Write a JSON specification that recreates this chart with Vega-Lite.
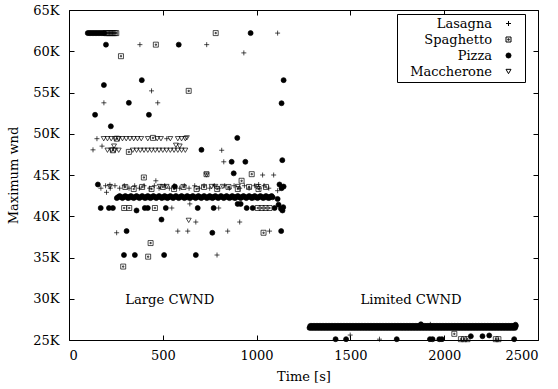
{
"$schema": "https://vega.github.io/schema/vega-lite/v6.json",
"width": 469, "height": 330,
"autosize": "none",
"padding": {"left": 69, "top": 10, "right": 20, "bottom": 49},
"background": "white",
"config": {
 "view": {"stroke": "black", "strokeWidth": 1},
 "font": "DejaVu Serif",
 "axis": {"labelFont": "DejaVu Serif", "labelFontSize": 13, "titleFont": "DejaVu Serif", "titleFontSize": 13, "titleFontWeight": "normal", "labelColor": "black", "titleColor": "black", "tickColor": "black", "tickSize": -5, "tickWidth": 1, "domain": false, "grid": false, "labelPadding": 15},
 "legend": {"strokeColor": "black", "padding": 3, "rowPadding": 2, "labelFont": "DejaVu Serif", "labelFontSize": 13, "labelColor": "black", "symbolStrokeWidth": 1, "labelLimit": 300, "cornerRadius": 0, "fillColor": "white", "labelAlign": "right", "symbolOffset": 102, "labelOffset": -23, "titleOrient": "right", "titlePadding": 9, "titleFont": "DejaVu Serif", "titleFontSize": 13}
},
"datasets": {
"notes": [{"t": 537, "w": 29.9, "label": "Large CWND"}, {"t": 1823, "w": 29.9, "label": "Limited CWND"}],
"pts": [
{"s":"Lasagna","t":378,"w":60.8},{"s":"Lasagna","t":734,"w":60.8},{"s":"Lasagna","t":1112,"w":62.2},{"s":"Lasagna","t":932,"w":59.8},{"s":"Lasagna","t":440,"w":55.2},{"s":"Lasagna","t":186,"w":53.75},{"s":"Lasagna","t":473,"w":53.75},{"s":"Lasagna","t":149,"w":49.4},{"s":"Lasagna","t":521,"w":49.4},{"s":"Lasagna","t":128,"w":48.05},{"s":"Lasagna","t":176,"w":48.5},{"s":"Lasagna","t":814,"w":48.0},{"s":"Lasagna","t":825,"w":46.6},{"s":"Lasagna","t":1032,"w":45.0},{"s":"Lasagna","t":1091,"w":45.0},{"s":"Lasagna","t":463,"w":44.3},{"s":"Lasagna","t":200,"w":42.9},{"s":"Lasagna","t":1011,"w":43.85},{"s":"Lasagna","t":1112,"w":43.1},{"s":"Lasagna","t":644,"w":41.5},{"s":"Lasagna","t":548,"w":41.0},{"s":"Lasagna","t":798,"w":41.0},{"s":"Lasagna","t":676,"w":39.3},{"s":"Lasagna","t":910,"w":39.3},{"s":"Lasagna","t":254,"w":38.0},{"s":"Lasagna","t":580,"w":38.2},{"s":"Lasagna","t":633,"w":38.2},{"s":"Lasagna","t":846,"w":38.2},{"s":"Lasagna","t":1069,"w":38.2},{"s":"Lasagna","t":789,"w":35.3},{"s":"Lasagna","t":1087,"w":42.4},{"s":"Lasagna","t":218,"w":43.8},{"s":"Lasagna","t":1499,"w":25.6},{"s":"Lasagna","t":1655,"w":25.1},{"s":"Lasagna","t":1926,"w":26.9},
{"s":"Lasagna","t":170,"w":43.4},{"s":"Lasagna","t":195,"w":43.7},{"s":"Lasagna","t":220,"w":43.4},{"s":"Lasagna","t":245,"w":43.7},{"s":"Lasagna","t":270,"w":43.4},{"s":"Lasagna","t":295,"w":43.7},{"s":"Lasagna","t":320,"w":43.4},{"s":"Lasagna","t":350,"w":43.7},{"s":"Lasagna","t":375,"w":43.4},{"s":"Lasagna","t":400,"w":43.7},{"s":"Lasagna","t":430,"w":43.4},{"s":"Lasagna","t":455,"w":43.7},{"s":"Lasagna","t":480,"w":43.4},{"s":"Lasagna","t":510,"w":43.7},{"s":"Lasagna","t":535,"w":43.4},{"s":"Lasagna","t":560,"w":43.7},{"s":"Lasagna","t":590,"w":43.4},{"s":"Lasagna","t":615,"w":43.7},{"s":"Lasagna","t":640,"w":43.4},{"s":"Lasagna","t":670,"w":43.7},{"s":"Lasagna","t":695,"w":43.4},{"s":"Lasagna","t":720,"w":43.7},{"s":"Lasagna","t":750,"w":43.4},{"s":"Lasagna","t":775,"w":43.7},{"s":"Lasagna","t":800,"w":43.4},{"s":"Lasagna","t":830,"w":43.7},{"s":"Lasagna","t":855,"w":43.4},{"s":"Lasagna","t":880,"w":43.7},{"s":"Lasagna","t":910,"w":43.4},{"s":"Lasagna","t":935,"w":43.7},{"s":"Lasagna","t":960,"w":43.4},{"s":"Lasagna","t":990,"w":43.7},{"s":"Lasagna","t":1015,"w":43.4},{"s":"Lasagna","t":1040,"w":43.7},{"s":"Lasagna","t":1065,"w":43.4},
{"s":"Spaghetto","t":196,"w":62.2},{"s":"Spaghetto","t":204,"w":62.2},{"s":"Spaghetto","t":212,"w":62.2},{"s":"Spaghetto","t":220,"w":62.2},{"s":"Spaghetto","t":228,"w":62.2},{"s":"Spaghetto","t":236,"w":62.2},{"s":"Spaghetto","t":244,"w":62.2},{"s":"Spaghetto","t":252,"w":62.2},
{"s":"Spaghetto","t":463,"w":60.8},{"s":"Spaghetto","t":782,"w":62.2},{"s":"Spaghetto","t":277,"w":59.4},{"s":"Spaghetto","t":638,"w":55.2},{"s":"Spaghetto","t":448,"w":49.5},{"s":"Spaghetto","t":319,"w":47.8},{"s":"Spaghetto","t":255,"w":49.4},{"s":"Spaghetto","t":234,"w":48.0},{"s":"Spaghetto","t":399,"w":44.7},{"s":"Spaghetto","t":733,"w":45.1},{"s":"Spaghetto","t":920,"w":44.3},{"s":"Spaghetto","t":974,"w":45.1},{"s":"Spaghetto","t":294,"w":41.0},{"s":"Spaghetto","t":321,"w":41.0},{"s":"Spaghetto","t":458,"w":41.0},{"s":"Spaghetto","t":1006,"w":41.0},{"s":"Spaghetto","t":1027,"w":41.0},{"s":"Spaghetto","t":1048,"w":41.0},{"s":"Spaghetto","t":1069,"w":41.0},{"s":"Spaghetto","t":1037,"w":38.0},{"s":"Spaghetto","t":435,"w":36.75},{"s":"Spaghetto","t":422,"w":35.1},{"s":"Spaghetto","t":289,"w":33.9},
{"s":"Spaghetto","t":300,"w":43.55},{"s":"Spaghetto","t":345,"w":43.3},{"s":"Spaghetto","t":390,"w":43.55},{"s":"Spaghetto","t":440,"w":43.3},{"s":"Spaghetto","t":500,"w":43.55},{"s":"Spaghetto","t":560,"w":43.3},{"s":"Spaghetto","t":610,"w":43.55},{"s":"Spaghetto","t":680,"w":43.3},{"s":"Spaghetto","t":720,"w":43.55},{"s":"Spaghetto","t":790,"w":43.3},{"s":"Spaghetto","t":850,"w":43.55},{"s":"Spaghetto","t":900,"w":43.3},{"s":"Spaghetto","t":960,"w":43.55},{"s":"Spaghetto","t":1010,"w":43.3},{"s":"Spaghetto","t":1050,"w":43.55},
{"s":"Spaghetto","t":320,"w":42.3},{"s":"Spaghetto","t":420,"w":42.3},{"s":"Spaghetto","t":520,"w":42.3},{"s":"Spaghetto","t":640,"w":42.3},{"s":"Spaghetto","t":760,"w":42.3},{"s":"Spaghetto","t":880,"w":42.3},{"s":"Spaghetto","t":980,"w":42.3},{"s":"Spaghetto","t":1060,"w":42.3},
{"s":"Spaghetto","t":2054,"w":25.75},{"s":"Spaghetto","t":2089,"w":25.1},{"s":"Spaghetto","t":2106,"w":25.1},{"s":"Spaghetto","t":2124,"w":25.1},{"s":"Spaghetto","t":2275,"w":25.1},{"s":"Spaghetto","t":2289,"w":25.1},
{"s":"Pizza","t":100,"w":62.2},{"s":"Pizza","t":108,"w":62.2},{"s":"Pizza","t":116,"w":62.2},{"s":"Pizza","t":124,"w":62.2},{"s":"Pizza","t":132,"w":62.2},{"s":"Pizza","t":140,"w":62.2},{"s":"Pizza","t":148,"w":62.2},{"s":"Pizza","t":156,"w":62.2},{"s":"Pizza","t":164,"w":62.2},{"s":"Pizza","t":172,"w":62.2},{"s":"Pizza","t":180,"w":62.2},{"s":"Pizza","t":188,"w":62.2},
{"s":"Pizza","t":197,"w":60.8},{"s":"Pizza","t":585,"w":60.8},{"s":"Pizza","t":968,"w":62.2},{"s":"Pizza","t":388,"w":56.5},{"s":"Pizza","t":186,"w":55.9},{"s":"Pizza","t":319,"w":53.75},{"s":"Pizza","t":139,"w":52.3},{"s":"Pizza","t":426,"w":52.3},{"s":"Pizza","t":223,"w":50.9},{"s":"Pizza","t":1144,"w":56.5},{"s":"Pizza","t":1133,"w":53.7},{"s":"Pizza","t":897,"w":49.5},{"s":"Pizza","t":706,"w":48.05},{"s":"Pizza","t":867,"w":46.6},{"s":"Pizza","t":940,"w":46.6},{"s":"Pizza","t":1137,"w":46.8},{"s":"Pizza","t":878,"w":45.2},{"s":"Pizza","t":154,"w":43.85},{"s":"Pizza","t":564,"w":43.6},
{"s":"Pizza","t":169,"w":41.0},{"s":"Pizza","t":213,"w":41.0},{"s":"Pizza","t":234,"w":41.0},{"s":"Pizza","t":360,"w":40.7},{"s":"Pizza","t":404,"w":41.0},{"s":"Pizza","t":420,"w":41.0},{"s":"Pizza","t":516,"w":41.0},{"s":"Pizza","t":686,"w":41.0},{"s":"Pizza","t":771,"w":41.0},{"s":"Pizza","t":899,"w":41.5},{"s":"Pizza","t":915,"w":41.5},{"s":"Pizza","t":947,"w":41.0},{"s":"Pizza","t":979,"w":41.0},{"s":"Pizza","t":1096,"w":41.0},{"s":"Pizza","t":1117,"w":41.4},{"s":"Pizza","t":1138,"w":40.7},
{"s":"Pizza","t":493,"w":39.6},{"s":"Pizza","t":307,"w":38.2},{"s":"Pizza","t":764,"w":38.0},{"s":"Pizza","t":1131,"w":38.2},{"s":"Pizza","t":293,"w":35.3},{"s":"Pizza","t":351,"w":35.3},{"s":"Pizza","t":507,"w":35.3},{"s":"Pizza","t":676,"w":35.3},
{"s":"Pizza","t":1122,"w":43.85},{"s":"Pizza","t":1144,"w":43.6},{"s":"Pizza","t":1133,"w":43.4},{"s":"Pizza","t":1085,"w":42.3},{"s":"Pizza","t":1112,"w":42.1},{"s":"Pizza","t":1130,"w":40.9},{"s":"Pizza","t":1142,"w":41.1},
{"s":"Pizza","t":255,"w":42.2},{"s":"Pizza","t":270,"w":42.45},{"s":"Pizza","t":285,"w":42.2},{"s":"Pizza","t":300,"w":42.45},{"s":"Pizza","t":315,"w":42.2},{"s":"Pizza","t":330,"w":42.45},{"s":"Pizza","t":345,"w":42.2},{"s":"Pizza","t":360,"w":42.45},{"s":"Pizza","t":375,"w":42.2},{"s":"Pizza","t":390,"w":42.45},{"s":"Pizza","t":405,"w":42.2},{"s":"Pizza","t":420,"w":42.45},{"s":"Pizza","t":435,"w":42.2},{"s":"Pizza","t":450,"w":42.45},{"s":"Pizza","t":465,"w":42.2},{"s":"Pizza","t":480,"w":42.45},{"s":"Pizza","t":495,"w":42.2},{"s":"Pizza","t":510,"w":42.45},{"s":"Pizza","t":525,"w":42.2},{"s":"Pizza","t":540,"w":42.45},{"s":"Pizza","t":555,"w":42.2},{"s":"Pizza","t":570,"w":42.45},{"s":"Pizza","t":585,"w":42.2},{"s":"Pizza","t":600,"w":42.45},{"s":"Pizza","t":615,"w":42.2},{"s":"Pizza","t":630,"w":42.45},{"s":"Pizza","t":645,"w":42.2},{"s":"Pizza","t":660,"w":42.45},{"s":"Pizza","t":675,"w":42.2},{"s":"Pizza","t":690,"w":42.45},{"s":"Pizza","t":705,"w":42.2},{"s":"Pizza","t":720,"w":42.45},{"s":"Pizza","t":735,"w":42.2},{"s":"Pizza","t":750,"w":42.45},{"s":"Pizza","t":765,"w":42.2},{"s":"Pizza","t":780,"w":42.45},{"s":"Pizza","t":795,"w":42.2},{"s":"Pizza","t":810,"w":42.45},{"s":"Pizza","t":825,"w":42.2},{"s":"Pizza","t":840,"w":42.45},{"s":"Pizza","t":855,"w":42.2},{"s":"Pizza","t":870,"w":42.45},{"s":"Pizza","t":885,"w":42.2},{"s":"Pizza","t":900,"w":42.45},{"s":"Pizza","t":915,"w":42.2},{"s":"Pizza","t":930,"w":42.45},{"s":"Pizza","t":945,"w":42.2},{"s":"Pizza","t":960,"w":42.45},{"s":"Pizza","t":975,"w":42.2},{"s":"Pizza","t":990,"w":42.45},{"s":"Pizza","t":1005,"w":42.2},{"s":"Pizza","t":1020,"w":42.45},{"s":"Pizza","t":1035,"w":42.2},{"s":"Pizza","t":1050,"w":42.45},{"s":"Pizza","t":1065,"w":42.2},{"s":"Pizza","t":1080,"w":42.45},
{"s":"Pizza","t":262,"w":42.33},{"s":"Pizza","t":277,"w":42.33},{"s":"Pizza","t":292,"w":42.33},{"s":"Pizza","t":307,"w":42.33},{"s":"Pizza","t":322,"w":42.33},{"s":"Pizza","t":337,"w":42.33},{"s":"Pizza","t":352,"w":42.33},{"s":"Pizza","t":367,"w":42.33},{"s":"Pizza","t":382,"w":42.33},{"s":"Pizza","t":397,"w":42.33},{"s":"Pizza","t":412,"w":42.33},{"s":"Pizza","t":427,"w":42.33},{"s":"Pizza","t":442,"w":42.33},{"s":"Pizza","t":457,"w":42.33},{"s":"Pizza","t":472,"w":42.33},{"s":"Pizza","t":487,"w":42.33},{"s":"Pizza","t":502,"w":42.33},{"s":"Pizza","t":517,"w":42.33},{"s":"Pizza","t":532,"w":42.33},{"s":"Pizza","t":547,"w":42.33},{"s":"Pizza","t":562,"w":42.33},{"s":"Pizza","t":577,"w":42.33},{"s":"Pizza","t":592,"w":42.33},{"s":"Pizza","t":607,"w":42.33},{"s":"Pizza","t":622,"w":42.33},{"s":"Pizza","t":637,"w":42.33},{"s":"Pizza","t":652,"w":42.33},{"s":"Pizza","t":667,"w":42.33},{"s":"Pizza","t":682,"w":42.33},{"s":"Pizza","t":697,"w":42.33},{"s":"Pizza","t":712,"w":42.33},{"s":"Pizza","t":727,"w":42.33},{"s":"Pizza","t":742,"w":42.33},{"s":"Pizza","t":757,"w":42.33},{"s":"Pizza","t":772,"w":42.33},{"s":"Pizza","t":787,"w":42.33},{"s":"Pizza","t":802,"w":42.33},{"s":"Pizza","t":817,"w":42.33},{"s":"Pizza","t":832,"w":42.33},{"s":"Pizza","t":847,"w":42.33},{"s":"Pizza","t":862,"w":42.33},{"s":"Pizza","t":877,"w":42.33},{"s":"Pizza","t":892,"w":42.33},{"s":"Pizza","t":907,"w":42.33},{"s":"Pizza","t":922,"w":42.33},{"s":"Pizza","t":937,"w":42.33},{"s":"Pizza","t":952,"w":42.33},{"s":"Pizza","t":967,"w":42.33},{"s":"Pizza","t":982,"w":42.33},{"s":"Pizza","t":997,"w":42.33},{"s":"Pizza","t":1012,"w":42.33},{"s":"Pizza","t":1027,"w":42.33},{"s":"Pizza","t":1042,"w":42.33},{"s":"Pizza","t":1057,"w":42.33},{"s":"Pizza","t":1072,"w":42.33},
{"s":"Pizza","t":1421,"w":25.1},{"s":"Pizza","t":1477,"w":25.1},{"s":"Pizza","t":1747,"w":25.1},{"s":"Pizza","t":1924,"w":25.1},{"s":"Pizza","t":1938,"w":25.1},{"s":"Pizza","t":1974,"w":25.1},{"s":"Pizza","t":1988,"w":25.1},{"s":"Pizza","t":2142,"w":25.46},{"s":"Pizza","t":2204,"w":25.46},{"s":"Pizza","t":2240,"w":25.55},{"s":"Pizza","t":2373,"w":25.1},{"s":"Pizza","t":1876,"w":26.9},{"s":"Pizza","t":2380,"w":26.85},
{"s":"Pizza","t":1282,"w":26.47},{"s":"Pizza","t":1290,"w":26.47},{"s":"Pizza","t":1298,"w":26.47},{"s":"Pizza","t":1306,"w":26.47},{"s":"Pizza","t":1314,"w":26.47},{"s":"Pizza","t":1322,"w":26.47},{"s":"Pizza","t":1330,"w":26.47},{"s":"Pizza","t":1338,"w":26.47},{"s":"Pizza","t":1346,"w":26.47},{"s":"Pizza","t":1354,"w":26.47},{"s":"Pizza","t":1362,"w":26.47},{"s":"Pizza","t":1370,"w":26.47},{"s":"Pizza","t":1378,"w":26.47},{"s":"Pizza","t":1386,"w":26.47},{"s":"Pizza","t":1394,"w":26.47},{"s":"Pizza","t":1402,"w":26.47},{"s":"Pizza","t":1410,"w":26.47},{"s":"Pizza","t":1418,"w":26.47},{"s":"Pizza","t":1426,"w":26.47},{"s":"Pizza","t":1434,"w":26.47},{"s":"Pizza","t":1442,"w":26.47},{"s":"Pizza","t":1450,"w":26.47},{"s":"Pizza","t":1458,"w":26.47},{"s":"Pizza","t":1466,"w":26.47},{"s":"Pizza","t":1474,"w":26.47},{"s":"Pizza","t":1482,"w":26.47},{"s":"Pizza","t":1490,"w":26.47},{"s":"Pizza","t":1498,"w":26.47},{"s":"Pizza","t":1506,"w":26.47},{"s":"Pizza","t":1514,"w":26.47},{"s":"Pizza","t":1522,"w":26.47},{"s":"Pizza","t":1530,"w":26.47},{"s":"Pizza","t":1538,"w":26.47},{"s":"Pizza","t":1546,"w":26.47},{"s":"Pizza","t":1554,"w":26.47},{"s":"Pizza","t":1562,"w":26.47},{"s":"Pizza","t":1570,"w":26.47},{"s":"Pizza","t":1578,"w":26.47},{"s":"Pizza","t":1586,"w":26.47},{"s":"Pizza","t":1594,"w":26.47},{"s":"Pizza","t":1602,"w":26.47},{"s":"Pizza","t":1610,"w":26.47},{"s":"Pizza","t":1618,"w":26.47},{"s":"Pizza","t":1626,"w":26.47},{"s":"Pizza","t":1634,"w":26.47},{"s":"Pizza","t":1642,"w":26.47},{"s":"Pizza","t":1650,"w":26.47},{"s":"Pizza","t":1658,"w":26.47},{"s":"Pizza","t":1666,"w":26.47},{"s":"Pizza","t":1674,"w":26.47},{"s":"Pizza","t":1682,"w":26.47},{"s":"Pizza","t":1690,"w":26.47},{"s":"Pizza","t":1698,"w":26.47},{"s":"Pizza","t":1706,"w":26.47},{"s":"Pizza","t":1714,"w":26.47},{"s":"Pizza","t":1722,"w":26.47},{"s":"Pizza","t":1730,"w":26.47},{"s":"Pizza","t":1738,"w":26.47},{"s":"Pizza","t":1746,"w":26.47},{"s":"Pizza","t":1754,"w":26.47},{"s":"Pizza","t":1762,"w":26.47},{"s":"Pizza","t":1770,"w":26.47},{"s":"Pizza","t":1778,"w":26.47},{"s":"Pizza","t":1786,"w":26.47},{"s":"Pizza","t":1794,"w":26.47},{"s":"Pizza","t":1802,"w":26.47},{"s":"Pizza","t":1810,"w":26.47},{"s":"Pizza","t":1818,"w":26.47},{"s":"Pizza","t":1826,"w":26.47},{"s":"Pizza","t":1834,"w":26.47},{"s":"Pizza","t":1842,"w":26.47},{"s":"Pizza","t":1850,"w":26.47},{"s":"Pizza","t":1858,"w":26.47},{"s":"Pizza","t":1866,"w":26.47},{"s":"Pizza","t":1874,"w":26.47},{"s":"Pizza","t":1882,"w":26.47},{"s":"Pizza","t":1890,"w":26.47},{"s":"Pizza","t":1898,"w":26.47},{"s":"Pizza","t":1906,"w":26.47},{"s":"Pizza","t":1914,"w":26.47},{"s":"Pizza","t":1922,"w":26.47},{"s":"Pizza","t":1930,"w":26.47},{"s":"Pizza","t":1938,"w":26.47},{"s":"Pizza","t":1946,"w":26.47},{"s":"Pizza","t":1954,"w":26.47},{"s":"Pizza","t":1962,"w":26.47},{"s":"Pizza","t":1970,"w":26.47},{"s":"Pizza","t":1978,"w":26.47},{"s":"Pizza","t":1986,"w":26.47},{"s":"Pizza","t":1994,"w":26.47},{"s":"Pizza","t":2002,"w":26.47},{"s":"Pizza","t":2010,"w":26.47},{"s":"Pizza","t":2018,"w":26.47},{"s":"Pizza","t":2026,"w":26.47},{"s":"Pizza","t":2034,"w":26.47},{"s":"Pizza","t":2042,"w":26.47},{"s":"Pizza","t":2050,"w":26.47},{"s":"Pizza","t":2058,"w":26.47},{"s":"Pizza","t":2066,"w":26.47},{"s":"Pizza","t":2074,"w":26.47},{"s":"Pizza","t":2082,"w":26.47},{"s":"Pizza","t":2090,"w":26.47},{"s":"Pizza","t":2098,"w":26.47},{"s":"Pizza","t":2106,"w":26.47},{"s":"Pizza","t":2114,"w":26.47},{"s":"Pizza","t":2122,"w":26.47},{"s":"Pizza","t":2130,"w":26.47},{"s":"Pizza","t":2138,"w":26.47},{"s":"Pizza","t":2146,"w":26.47},{"s":"Pizza","t":2154,"w":26.47},{"s":"Pizza","t":2162,"w":26.47},{"s":"Pizza","t":2170,"w":26.47},{"s":"Pizza","t":2178,"w":26.47},{"s":"Pizza","t":2186,"w":26.47},{"s":"Pizza","t":2194,"w":26.47},{"s":"Pizza","t":2202,"w":26.47},{"s":"Pizza","t":2210,"w":26.47},{"s":"Pizza","t":2218,"w":26.47},{"s":"Pizza","t":2226,"w":26.47},{"s":"Pizza","t":2234,"w":26.47},{"s":"Pizza","t":2242,"w":26.47},{"s":"Pizza","t":2250,"w":26.47},{"s":"Pizza","t":2258,"w":26.47},{"s":"Pizza","t":2266,"w":26.47},{"s":"Pizza","t":2274,"w":26.47},{"s":"Pizza","t":2282,"w":26.47},{"s":"Pizza","t":2290,"w":26.47},{"s":"Pizza","t":2298,"w":26.47},{"s":"Pizza","t":2306,"w":26.47},{"s":"Pizza","t":2314,"w":26.47},{"s":"Pizza","t":2322,"w":26.47},{"s":"Pizza","t":2330,"w":26.47},{"s":"Pizza","t":2338,"w":26.47},{"s":"Pizza","t":2346,"w":26.47},{"s":"Pizza","t":2354,"w":26.47},{"s":"Pizza","t":2362,"w":26.47},{"s":"Pizza","t":2370,"w":26.47},{"s":"Pizza","t":2378,"w":26.47},
{"s":"Pizza","t":1286,"w":26.71},{"s":"Pizza","t":1294,"w":26.71},{"s":"Pizza","t":1302,"w":26.71},{"s":"Pizza","t":1310,"w":26.71},{"s":"Pizza","t":1318,"w":26.71},{"s":"Pizza","t":1326,"w":26.71},{"s":"Pizza","t":1334,"w":26.71},{"s":"Pizza","t":1342,"w":26.71},{"s":"Pizza","t":1350,"w":26.71},{"s":"Pizza","t":1358,"w":26.71},{"s":"Pizza","t":1366,"w":26.71},{"s":"Pizza","t":1374,"w":26.71},{"s":"Pizza","t":1382,"w":26.71},{"s":"Pizza","t":1390,"w":26.71},{"s":"Pizza","t":1398,"w":26.71},{"s":"Pizza","t":1406,"w":26.71},{"s":"Pizza","t":1414,"w":26.71},{"s":"Pizza","t":1422,"w":26.71},{"s":"Pizza","t":1430,"w":26.71},{"s":"Pizza","t":1438,"w":26.71},{"s":"Pizza","t":1446,"w":26.71},{"s":"Pizza","t":1454,"w":26.71},{"s":"Pizza","t":1462,"w":26.71},{"s":"Pizza","t":1470,"w":26.71},{"s":"Pizza","t":1478,"w":26.71},{"s":"Pizza","t":1486,"w":26.71},{"s":"Pizza","t":1494,"w":26.71},{"s":"Pizza","t":1502,"w":26.71},{"s":"Pizza","t":1510,"w":26.71},{"s":"Pizza","t":1518,"w":26.71},{"s":"Pizza","t":1526,"w":26.71},{"s":"Pizza","t":1534,"w":26.71},{"s":"Pizza","t":1542,"w":26.71},{"s":"Pizza","t":1550,"w":26.71},{"s":"Pizza","t":1558,"w":26.71},{"s":"Pizza","t":1566,"w":26.71},{"s":"Pizza","t":1574,"w":26.71},{"s":"Pizza","t":1582,"w":26.71},{"s":"Pizza","t":1590,"w":26.71},{"s":"Pizza","t":1598,"w":26.71},{"s":"Pizza","t":1606,"w":26.71},{"s":"Pizza","t":1614,"w":26.71},{"s":"Pizza","t":1622,"w":26.71},{"s":"Pizza","t":1630,"w":26.71},{"s":"Pizza","t":1638,"w":26.71},{"s":"Pizza","t":1646,"w":26.71},{"s":"Pizza","t":1654,"w":26.71},{"s":"Pizza","t":1662,"w":26.71},{"s":"Pizza","t":1670,"w":26.71},{"s":"Pizza","t":1678,"w":26.71},{"s":"Pizza","t":1686,"w":26.71},{"s":"Pizza","t":1694,"w":26.71},{"s":"Pizza","t":1702,"w":26.71},{"s":"Pizza","t":1710,"w":26.71},{"s":"Pizza","t":1718,"w":26.71},{"s":"Pizza","t":1726,"w":26.71},{"s":"Pizza","t":1734,"w":26.71},{"s":"Pizza","t":1742,"w":26.71},{"s":"Pizza","t":1750,"w":26.71},{"s":"Pizza","t":1758,"w":26.71},{"s":"Pizza","t":1766,"w":26.71},{"s":"Pizza","t":1774,"w":26.71},{"s":"Pizza","t":1782,"w":26.71},{"s":"Pizza","t":1790,"w":26.71},{"s":"Pizza","t":1798,"w":26.71},{"s":"Pizza","t":1806,"w":26.71},{"s":"Pizza","t":1814,"w":26.71},{"s":"Pizza","t":1822,"w":26.71},{"s":"Pizza","t":1830,"w":26.71},{"s":"Pizza","t":1838,"w":26.71},{"s":"Pizza","t":1846,"w":26.71},{"s":"Pizza","t":1854,"w":26.71},{"s":"Pizza","t":1862,"w":26.71},{"s":"Pizza","t":1870,"w":26.71},{"s":"Pizza","t":1878,"w":26.71},{"s":"Pizza","t":1886,"w":26.71},{"s":"Pizza","t":1894,"w":26.71},{"s":"Pizza","t":1902,"w":26.71},{"s":"Pizza","t":1910,"w":26.71},{"s":"Pizza","t":1918,"w":26.71},{"s":"Pizza","t":1926,"w":26.71},{"s":"Pizza","t":1934,"w":26.71},{"s":"Pizza","t":1942,"w":26.71},{"s":"Pizza","t":1950,"w":26.71},{"s":"Pizza","t":1958,"w":26.71},{"s":"Pizza","t":1966,"w":26.71},{"s":"Pizza","t":1974,"w":26.71},{"s":"Pizza","t":1982,"w":26.71},{"s":"Pizza","t":1990,"w":26.71},{"s":"Pizza","t":1998,"w":26.71},{"s":"Pizza","t":2006,"w":26.71},{"s":"Pizza","t":2014,"w":26.71},{"s":"Pizza","t":2022,"w":26.71},{"s":"Pizza","t":2030,"w":26.71},{"s":"Pizza","t":2038,"w":26.71},{"s":"Pizza","t":2046,"w":26.71},{"s":"Pizza","t":2054,"w":26.71},{"s":"Pizza","t":2062,"w":26.71},{"s":"Pizza","t":2070,"w":26.71},{"s":"Pizza","t":2078,"w":26.71},{"s":"Pizza","t":2086,"w":26.71},{"s":"Pizza","t":2094,"w":26.71},{"s":"Pizza","t":2102,"w":26.71},{"s":"Pizza","t":2110,"w":26.71},{"s":"Pizza","t":2118,"w":26.71},{"s":"Pizza","t":2126,"w":26.71},{"s":"Pizza","t":2134,"w":26.71},{"s":"Pizza","t":2142,"w":26.71},{"s":"Pizza","t":2150,"w":26.71},{"s":"Pizza","t":2158,"w":26.71},{"s":"Pizza","t":2166,"w":26.71},{"s":"Pizza","t":2174,"w":26.71},{"s":"Pizza","t":2182,"w":26.71},{"s":"Pizza","t":2190,"w":26.71},{"s":"Pizza","t":2198,"w":26.71},{"s":"Pizza","t":2206,"w":26.71},{"s":"Pizza","t":2214,"w":26.71},{"s":"Pizza","t":2222,"w":26.71},{"s":"Pizza","t":2230,"w":26.71},{"s":"Pizza","t":2238,"w":26.71},{"s":"Pizza","t":2246,"w":26.71},{"s":"Pizza","t":2254,"w":26.71},{"s":"Pizza","t":2262,"w":26.71},{"s":"Pizza","t":2270,"w":26.71},{"s":"Pizza","t":2278,"w":26.71},{"s":"Pizza","t":2286,"w":26.71},{"s":"Pizza","t":2294,"w":26.71},{"s":"Pizza","t":2302,"w":26.71},{"s":"Pizza","t":2310,"w":26.71},{"s":"Pizza","t":2318,"w":26.71},{"s":"Pizza","t":2326,"w":26.71},{"s":"Pizza","t":2334,"w":26.71},{"s":"Pizza","t":2342,"w":26.71},{"s":"Pizza","t":2350,"w":26.71},{"s":"Pizza","t":2358,"w":26.71},{"s":"Pizza","t":2366,"w":26.71},{"s":"Pizza","t":2374,"w":26.71},{"s":"Pizza","t":2382,"w":26.71},
{"s":"Maccherone","t":185,"w":49.4},{"s":"Maccherone","t":205,"w":49.4},{"s":"Maccherone","t":225,"w":49.4},{"s":"Maccherone","t":245,"w":49.4},{"s":"Maccherone","t":265,"w":49.4},{"s":"Maccherone","t":285,"w":49.4},{"s":"Maccherone","t":305,"w":49.4},{"s":"Maccherone","t":325,"w":49.4},{"s":"Maccherone","t":345,"w":49.4},{"s":"Maccherone","t":365,"w":49.4},{"s":"Maccherone","t":385,"w":49.4},{"s":"Maccherone","t":420,"w":49.4},{"s":"Maccherone","t":470,"w":49.4},{"s":"Maccherone","t":490,"w":49.4},{"s":"Maccherone","t":540,"w":49.4},{"s":"Maccherone","t":580,"w":49.4},{"s":"Maccherone","t":600,"w":49.4},{"s":"Maccherone","t":620,"w":49.4},{"s":"Maccherone","t":628,"w":49.5},
{"s":"Maccherone","t":205,"w":48.0},{"s":"Maccherone","t":225,"w":48.0},{"s":"Maccherone","t":245,"w":48.0},{"s":"Maccherone","t":265,"w":48.0},{"s":"Maccherone","t":340,"w":48.0},{"s":"Maccherone","t":360,"w":48.0},{"s":"Maccherone","t":380,"w":48.0},{"s":"Maccherone","t":400,"w":48.0},{"s":"Maccherone","t":420,"w":48.0},{"s":"Maccherone","t":440,"w":48.0},{"s":"Maccherone","t":460,"w":48.0},{"s":"Maccherone","t":480,"w":48.0},{"s":"Maccherone","t":500,"w":48.0},{"s":"Maccherone","t":520,"w":48.0},{"s":"Maccherone","t":540,"w":48.0},{"s":"Maccherone","t":560,"w":48.0},{"s":"Maccherone","t":580,"w":48.0},{"s":"Maccherone","t":600,"w":48.0},{"s":"Maccherone","t":620,"w":48.0},
{"s":"Maccherone","t":240,"w":48.5},{"s":"Maccherone","t":570,"w":48.6},{"s":"Maccherone","t":590,"w":48.5},{"s":"Maccherone","t":218,"w":43.6},{"s":"Maccherone","t":638,"w":39.5},{"s":"Maccherone","t":733,"w":45.0},{"s":"Maccherone","t":484,"w":43.6},{"s":"Maccherone","t":520,"w":43.6},{"s":"Maccherone","t":760,"w":43.6},{"s":"Maccherone","t":780,"w":43.6},{"s":"Maccherone","t":820,"w":43.6},{"s":"Maccherone","t":900,"w":43.6},{"s":"Maccherone","t":1000,"w":43.6}
]
},
"layer": [
 {"data": {"name": "pts"},
  "mark": {"type": "point", "strokeWidth": 0.7, "opacity": 1},
  "encoding": {
   "x": {"field": "t", "type": "quantitative", "scale": {"domain": [0, 2500], "nice": false, "zero": false},
         "axis": {"orient": "bottom", "values": [0, 500, 1000, 1500, 2000, 2500], "format": "d", "title": "Time [s]", "labelPadding": 14, "titlePadding": 8}},
   "y": {"field": "w", "type": "quantitative", "scale": {"domain": [25, 65], "nice": false, "zero": false},
         "axis": {"orient": "left", "values": [25, 30, 35, 40, 45, 50, 55, 60, 65], "labelExpr": "datum.value + 'K'", "title": "Maximum wnd", "labelPadding": 15, "titlePadding": 12}},
   "shape": {"field": "s", "type": "nominal",
      "scale": {"domain": ["Lasagna", "Spaghetto", "Pizza", "Maccherone"], "range": ["M-1,0H1M0,-1V1", "M-1,-1H1V1H-1ZM-0.25,-0.25H0.25V0.25H-0.25Z", "circle", "triangle-down"]},
      "legend": {"title": "\u00a0", "orient": "none", "legendX": 328, "legendY": 4}},
   "fill": {"field": "s", "type": "nominal",
      "scale": {"domain": ["Lasagna", "Spaghetto", "Pizza", "Maccherone"], "range": ["transparent", "transparent", "black", "transparent"]},
      "legend": {"title": "\u00a0", "orient": "none", "legendX": 328, "legendY": 4}},
   "stroke": {"field": "s", "type": "nominal",
      "scale": {"domain": ["Lasagna", "Spaghetto", "Pizza", "Maccherone"], "range": ["black", "black", "black", "black"]},
      "legend": {"title": "\u00a0", "orient": "none", "legendX": 328, "legendY": 4}},
   "size": {"field": "s", "type": "ordinal",
      "scale": {"domain": ["Lasagna", "Spaghetto", "Pizza", "Maccherone"], "range": [25, 25, 12, 26]},
      "legend": {"title": "\u00a0", "orient": "none", "legendX": 328, "legendY": 4}}
  }},
 {"data": {"name": "pts"},
  "mark": {"type": "point", "opacity": 0},
  "encoding": {
   "x": {"field": "t", "type": "quantitative", "scale": {"domain": [0, 2500], "nice": false, "zero": false},
         "axis": {"orient": "top", "values": [0, 500, 1000, 1500, 2000, 2500], "labels": false, "title": null}},
   "y": {"field": "w", "type": "quantitative", "scale": {"domain": [25, 65], "nice": false, "zero": false},
         "axis": {"orient": "right", "values": [25, 30, 35, 40, 45, 50, 55, 60, 65], "labels": false, "title": null}}
  }},
 {"data": {"name": "notes"},
  "mark": {"type": "text", "font": "DejaVu Serif", "fontSize": 13.2, "color": "black", "baseline": "middle", "align": "center"},
  "encoding": {
   "x": {"field": "t", "type": "quantitative", "axis": null},
   "y": {"field": "w", "type": "quantitative", "axis": null},
   "text": {"field": "label", "type": "nominal"}
  }}
],
"resolve": {"axis": {"x": "independent", "y": "independent"}}
}
